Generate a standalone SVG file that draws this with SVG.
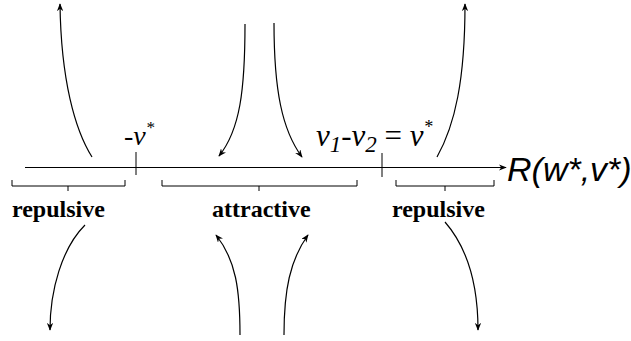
<svg xmlns="http://www.w3.org/2000/svg" width="631" height="341" viewBox="0 0 631 341">
<style>
.ln{fill:none;stroke:#000;stroke-width:1.2}
.ar{fill:none;stroke:#000;stroke-width:1.2;marker-end:url(#ah)}
.br{fill:none;stroke:#000;stroke-width:1}
.lab{font-family:"Liberation Serif",serif;font-weight:bold;font-size:24px;fill:#000}
.math{font-family:"Liberation Serif",serif;font-style:italic;fill:#000}
.ax{font-family:"Liberation Sans",Arial,sans-serif;font-style:italic;font-size:34px;fill:#000}
</style>
<defs>
<marker id="ah" viewBox="0 0 10 8" refX="9" refY="4" markerWidth="8" markerHeight="6.4" orient="auto" markerUnits="userSpaceOnUse">
<path d="M0,0 L10,4 L0,8 L3,4 z" fill="#000"/>
</marker>
</defs>
<g id="axis">
<path class="ar" d="M25,167.5 H506"/>
<text class="ax" x="507" y="181">R(w*,v*)</text>
</g>
<g id="tick-neg">
<line class="br" x1="136" y1="152" x2="136" y2="175"/>
<text class="math" x="124" y="145" font-size="28">-v<tspan dy="-12" font-size="17">*</tspan></text>
</g>
<g id="tick-pos">
<line class="br" x1="382" y1="153" x2="382" y2="177"/>
<text class="math" x="316" y="146" font-size="31">v<tspan dy="6" font-size="23">1</tspan><tspan dy="-6">-v</tspan><tspan dy="6" font-size="23">2</tspan><tspan dy="-6" font-style="normal"> = </tspan>v<tspan dy="-13" font-size="18">*</tspan></text>
</g>
<g id="repulsive-left">
<path class="br" d="M12,180 V186 H125 V180 M68,186 V191"/>
<text class="lab" x="12" y="217">repulsive</text>
</g>
<g id="attractive">
<path class="br" d="M162,180 V186 H357 V180 M259,186 V191"/>
<text class="lab" x="212" y="217">attractive</text>
</g>
<g id="repulsive-right">
<path class="br" d="M396,180 V186 H494 V180 M445,186 V191"/>
<text class="lab" x="392" y="217">repulsive</text>
</g>
<g id="connectors">
<path class="ar" d="M92,157 C75,130 61,80 60,4"/>
<path class="ar" d="M245,24 C245,90 240,130 219,156"/>
<path class="ar" d="M274,23 C274,90 282,130 302,157"/>
<path class="ar" d="M437,157 C455,125 465,80 465,4"/>
<path class="ar" d="M85,225 C62,248 50,290 50,330"/>
<path class="ar" d="M240,335 C240,290 236,260 216,235"/>
<path class="ar" d="M284,335 C284,290 290,260 308,235"/>
<path class="ar" d="M445,222 C465,245 478,280 478,330"/>
</g>
</svg>
